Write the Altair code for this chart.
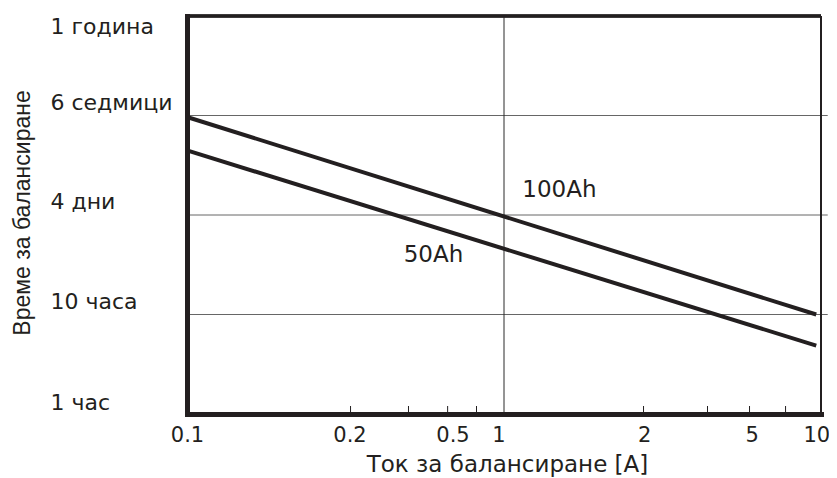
import math
import altair as alt
import pandas as pd

# ---- data ----
series = ["100Ah", "100Ah", "50Ah", "50Ah"]
current_a = [0.1, 9.66, 0.1, 9.66]          # balancing current [A]
time_h = [966, 10.0, 446, 4.87]             # balancing time [hours]

label_text = ["100Ah", "50Ah"]
label_x = [1.496, 0.599]
label_y = [179.5, 39.5]

# x tick labels and where they sit on the log axis in the picture
x_tick_labels = ["0.1", "0.2", "0.5", "1", "2", "5", "10"]
x_tick_pos = [0.1, 0.3256, 0.688, 0.96, 2.77, 6.04, 9.66]
# small inward tick marks on the bottom edge
x_minor_pos = [0.328, 0.4997, 0.664, 0.819, 2.755, 4.385, 5.95, 7.73]

# y tick labels (hours scale) and where they sit in the picture
y_tick_labels = ["1 час", "10 часа", "4 дни", "6 седмици", "1 година"]
y_tick_pos = [1.29, 13.6, 136, 1340, 7770]
# horizontal grid lines
y_grid = [10, 100, 1000]
x_grid = [1]

INK = "#231f20"
FONT = "DejaVu Sans"


def label_expr(pos, labels):
    expr = f"'{labels[-1]}'"
    for i in reversed(range(len(pos) - 1)):
        thr = math.sqrt(pos[i] * pos[i + 1])
        expr = f"datum.value < {thr:.5f} ? '{labels[i]}' : " + expr
    return expr


xs = alt.Scale(type="log", domain=[0.1, 10], nice=False)
ys = alt.Scale(type="log", domain=[1, 10000], nice=False)

x_axis = alt.Axis(
    values=x_tick_pos, labelExpr=label_expr(x_tick_pos, x_tick_labels),
    ticks=False, tickSize=0, grid=False, labelOverlap=False, labelBound=False,
    labelFlush=False, labelPadding=10, labelFont=FONT, labelFontSize=21,
    labelColor=INK, labelBaseline="top",
    domainColor=INK, domainWidth=5, domainCap="square",
    title="Ток за балансиране [A]", titleFont=FONT, titleFontSize=23,
    titleFontWeight="normal", titleColor=INK, titleX=320, titleY=57,
    titleBaseline="alphabetic", titleAlign="center", zindex=1,
)
y_axis = alt.Axis(
    values=y_tick_pos, labelExpr=label_expr(y_tick_pos, y_tick_labels),
    ticks=False, tickSize=0, grid=False, labelOverlap=False, labelBound=False,
    labelFlush=False, labelPadding=137, labelAlign="left", labelBaseline="middle",
    labelFont=FONT, labelFontSize=22, labelColor=INK,
    domainColor=INK, domainWidth=5, domainCap="square",
    title="Време за балансиране", titleFont="Liberation Sans",
    titleFontSize=23, titleFontWeight="normal", titleColor=INK,
    titleAngle=270, titleX=-157.5, titleY=196.5, titleBaseline="alphabetic",
    titleAlign="center", zindex=1,
)

lines_df = pd.DataFrame({"series": series, "current": current_a, "hours": time_h})
labels_df = pd.DataFrame({"text": label_text, "current": label_x, "hours": label_y})
hgrid_df = pd.DataFrame({"hours": y_grid})
vgrid_df = pd.DataFrame({"current": x_grid})
minor_df = pd.DataFrame({"current": x_minor_pos})

hgrid = alt.Chart(hgrid_df).mark_rule(color="#666666", strokeWidth=1).encode(
    y=alt.Y("hours:Q", scale=ys, axis=y_axis),
    x=alt.XDatum(0.1, scale=xs),
    x2=alt.X2Datum(10.5),
)
vgrid = alt.Chart(vgrid_df).mark_rule(color="#2a2a2a", strokeWidth=1).encode(
    x=alt.X("current:Q", scale=xs, axis=x_axis),
    y=alt.YDatum(1, scale=ys),
    y2=alt.Y2Datum(10000),
)
lines = alt.Chart(lines_df).mark_line(color=INK, strokeWidth=4).encode(
    x=alt.X("current:Q", scale=xs, axis=x_axis),
    y=alt.Y("hours:Q", scale=ys, axis=y_axis),
    detail="series:N",
)
texts = alt.Chart(labels_df).mark_text(
    font=FONT, fontSize=23, color=INK, align="center", baseline="middle"
).encode(
    x=alt.X("current:Q", scale=xs, axis=x_axis),
    y=alt.Y("hours:Q", scale=ys, axis=y_axis),
    text="text:N",
)
minor = alt.Chart(minor_df).mark_rule(color=INK, strokeWidth=1).encode(
    x=alt.X("current:Q", scale=xs, axis=x_axis),
    y=alt.value(390),
    y2=alt.value(398),
)
top_border = alt.Chart(hgrid_df).mark_rule(color=INK, strokeWidth=3).encode(
    y=alt.YDatum(10000, scale=ys),
    x=alt.XDatum(0.1, scale=xs),
    x2=alt.X2Datum(10),
)
right_border = alt.Chart(vgrid_df).mark_rule(color=INK, strokeWidth=2).encode(
    x=alt.XDatum(10, scale=xs),
    y=alt.YDatum(1, scale=ys),
    y2=alt.Y2Datum(10000),
)

chart = (
    alt.layer(hgrid, vgrid, lines, texts, minor, top_border, right_border)
    .properties(
        width=634,
        height=398,
        autosize=alt.AutoSizeParams(type="none"),
        padding={"left": 179, "top": 8, "right": 8, "bottom": 64},
        background="white",
    )
    .configure_view(stroke=None)
)

chart.save("out.html", embed_options={"renderer": "svg", "actions": False})
